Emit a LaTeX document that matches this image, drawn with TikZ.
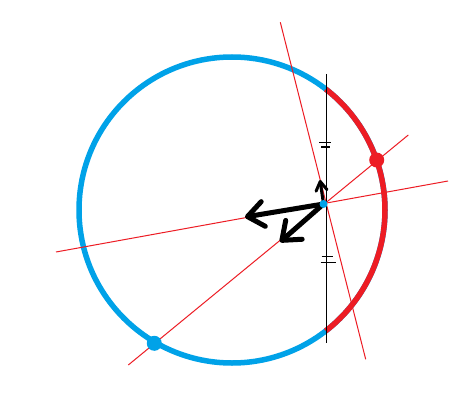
\documentclass[tikz,border=0pt]{standalone}
\usetikzlibrary{arrows.meta,calc}
\definecolor{pblue}{HTML}{00A2E8}
\definecolor{pred}{HTML}{ED1C24}
\begin{document}
\begin{tikzpicture}[x=1pt,y=-1pt,
  thinred/.style={draw=pred,line width=1pt},
  bigarrow/.style={draw=black,line width=5pt,line cap=round,-{Straight Barb[length=16pt,width=25pt,round]}},
  smallarrow/.style={draw=black,line width=3pt,line cap=round,-{Straight Barb[length=9pt,width=11pt,round]}},
  tick/.style={draw=black,line width=1.1pt},
  dotstyle/.style={circle,inner sep=0pt,minimum size=15pt}]
\useasboundingbox (0,0) rectangle (460,409);
\fill[white] (0,0) rectangle (460,409);
% circle
\coordinate (O) at (232,210);
\draw[pblue,line width=5.5pt] (O) circle[radius=153];
\draw[pred,line width=5.5pt] ($(O)+(-52.2:153)$) arc[start angle=-52.2,end angle=52.2,radius=153];
% red lines
\coordinate (a1) at (280.3,22.3);
\coordinate (a2) at (365.7,359.3);
\coordinate (b1) at (56,252);
\coordinate (b2) at (448,181);
\coordinate (c1) at (128.3,365);
\coordinate (c2) at (408.3,135);
\draw[thinred] (a1) -- (a2);
\draw[thinred] (b1) -- (b2);
\draw[thinred] (c1) -- (c2);
% dots on circle
\node[dotstyle,fill=pred] (rdot) at (376.7,160) {};
\node[dotstyle,fill=pblue] (bdot) at (154.3,343.3) {};
% vertical line
\coordinate (v1) at (326,74);
\coordinate (v2) at (326,343);
\draw[black,line width=1pt] (v1) -- (v2);
% tick marks
\draw[tick] (319,142.5) -- (331,142.5);
\draw[tick] (321,147) -- (330,147);
\draw[tick] (321.5,256.5) -- (333,256.5);
\draw[tick] (320.5,262.5) -- (336,262.5);
% point
\coordinate (P) at (323.5,204);
% arrows
\coordinate (t1) at (245,217);
\coordinate (t2) at (280,242);
\coordinate (t3) at (320,180);
\draw[bigarrow] (P) -- (t1);
\draw[bigarrow] (P) -- (t2);
\draw[smallarrow] (P) -- (t3);
\node[circle,fill=pblue,inner sep=0pt,minimum size=8pt] (Pdot) at (P) {};
\end{tikzpicture}
\end{document}
